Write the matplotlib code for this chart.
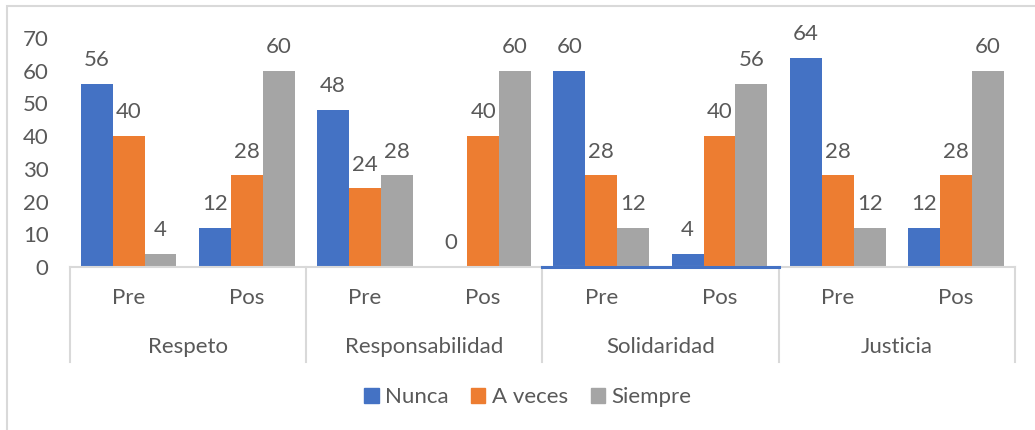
import matplotlib.pyplot as plt
import matplotlib.patches as mpatches
import numpy as np

# data
groups = ['Respeto', 'Responsabilidad', 'Solidaridad', 'Justicia']
subgroups = ['Pre', 'Pos']
series_names = ['Nunca', 'A veces', 'Siempre']
nunca = [56, 12, 48, 0, 60, 4, 64, 12]
a_veces = [40, 28, 24, 40, 28, 40, 28, 28]
siempre = [4, 60, 28, 60, 12, 56, 12, 60]
colors = ['#4472C4', '#ED7D31', '#A5A5A5']

plt.rcParams['font.family'] = ['Lato', 'DejaVu Sans']
txt = '#595959'
fs = 16

W, H = 1035, 430
fig = plt.figure(figsize=(W / 100, H / 100), dpi=100)
ax = fig.add_axes([69.5 / W, (H - 267) / H, (1015 - 69.5) / W, 229 / H])

x = np.arange(len(nunca))
bw = 0.27
for i, (vals, c, name) in enumerate(zip([nunca, a_veces, siempre], colors, series_names)):
    pos = x + (i - 1) * bw
    ax.bar(pos, vals, width=bw, color=c, label=name, zorder=2)
    for p, v in zip(pos, vals):
        ax.annotate(str(v), (p, v), xytext=(0, 10), textcoords='offset points',
                    ha='center', va='bottom', fontsize=fs, color=txt)

ax.set_xlim(-0.5, len(nunca) - 0.5)
ax.set_ylim(0, 70)
ax.set_yticks(range(0, 71, 10))
ax.tick_params(axis='y', length=0, labelsize=fs, labelcolor=txt, pad=15)
ax.tick_params(axis='x', length=0)
ax.set_xticks([])
for s in ['top', 'right', 'left']:
    ax.spines[s].set_visible(False)
ax.spines['bottom'].set_color('#D9D9D9')
ax.spines['bottom'].set_linewidth(1.5)

tr = ax.get_xaxis_transform()
# category separators
for b in np.arange(-0.5, len(nunca), 2):
    ax.plot([b, b], [0, -0.415], transform=tr, color='#D9D9D9', lw=1.5, clip_on=False)
# highlighted axis segment under Solidaridad
ax.plot([3.5, 5.5], [0, 0], transform=tr, color='#4472C4', lw=2.2, clip_on=False, zorder=3)

for i in x:
    ax.text(i, -0.135, subgroups[i % 2], transform=tr, ha='center', va='center',
            fontsize=fs, color=txt)
for g, name in enumerate(groups):
    ax.text(2 * g + 0.5, -0.349, name, transform=tr, ha='center', va='center',
            fontsize=fs, color=txt)

handles = [mpatches.Patch(color=c, label=n) for c, n in zip(colors, series_names)]
fig.legend(handles=handles, loc='center', bbox_to_anchor=(0.51, (H - 397) / H), ncol=3,
           frameon=False, fontsize=fs, labelcolor=txt, handlelength=0.65, handleheight=0.65,
           handletextpad=0.3, columnspacing=1.0)

# outer chart border
fig.patches.append(mpatches.Rectangle((7 / W, -0.1), 1.2, (H - 6) / H + 0.1,
                                      transform=fig.transFigure, fill=False,
                                      edgecolor='#D9D9D9', lw=1.5))

fig.savefig('out.png', dpi=100)
